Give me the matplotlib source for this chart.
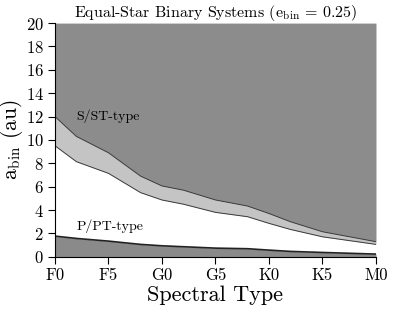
import matplotlib
matplotlib.use("Agg")
import matplotlib.pyplot as plt
import numpy as np

plt.rcParams['font.family'] = 'serif'
plt.rcParams['font.serif'] = ['cmr10', 'DejaVu Serif']
plt.rcParams['mathtext.fontset'] = 'cm'
plt.rcParams['axes.formatter.use_mathtext'] = True

# spectral subtypes, position in units of 5 subclasses (F0=0, F5=1, ...)
spec_pos = [0.0, 0.4, 1.0, 1.6, 2.0, 2.4, 3.0, 3.6, 4.0, 4.4, 5.0, 6.0]
# outer edge of S/ST-type zone (au)
s_outer = [12.0, 10.3, 8.9, 6.9, 6.06, 5.7, 4.86, 4.34, 3.7, 3.0, 2.14, 1.29]
# inner edge of S/ST-type zone (au)
s_inner = [9.5, 8.14, 7.14, 5.49, 4.86, 4.5, 3.8, 3.43, 2.86, 2.34, 1.71, 1.06]
# P/PT-type limit (au)
p_limit = [1.77, 1.57, 1.34, 1.06, 0.94, 0.86, 0.74, 0.69, 0.57, 0.46, 0.37, 0.23]

tick_pos = [0, 1, 2, 3, 4, 5, 6]
tick_labels = ['F0', 'F5', 'G0', 'G5', 'K0', 'K5', 'M0']

x = np.array(spec_pos)

fig = plt.figure(figsize=(4.15, 3.12), dpi=100)
ax = fig.add_axes([0.1325, 0.177, 0.7735, 0.749])

ax.fill_between(x, s_outer, 20, color='#8c8c8c', lw=0)
ax.fill_between(x, s_inner, s_outer, color='#c4c4c4', lw=0)
ax.fill_between(x, 0, p_limit, color='#8a8a8a', lw=0)
ax.plot(x, s_outer, color='#3a3a3a', lw=0.7)
ax.plot(x, s_inner, color='#3a3a3a', lw=0.7)
ax.plot(x, p_limit, color='#222222', lw=1.2)

ax.text(0.4, 12.0, 'S/ST-type', fontsize=10, va='center')
ax.text(0.4, 2.6, 'P/PT-type', fontsize=10, va='center')

ax.set_xlim(0, 6)
ax.set_ylim(0, 20)
ax.set_xticks(tick_pos)
ax.set_xticklabels(tick_labels)
ax.set_yticks(np.arange(0, 21, 2))
ax.tick_params(direction='out', length=5, width=0.8, labelsize=12, pad=3)
ax.spines['top'].set_visible(False)
ax.spines['right'].set_visible(False)

ax.set_title(r'Equal-Star Binary Systems ($\mathrm{e_{bin}}$ = 0.25)', fontsize=11.5, pad=3)
ax.set_xlabel('Spectral Type', fontsize=16, labelpad=2)
ax.set_ylabel(r'$\mathrm{a_{bin}}$ (au)', fontsize=15.5)
ax.yaxis.set_label_coords(-0.092, 0.5)

fig.savefig('out.png', dpi=100)
